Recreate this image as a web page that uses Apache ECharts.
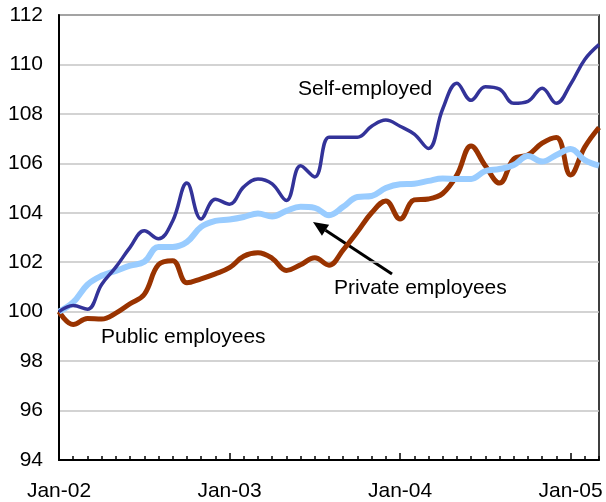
<!DOCTYPE html>
<html>
<head>
<meta charset="utf-8">
<script src="https://cdn.jsdelivr.net/npm/echarts@6/dist/echarts.min.js"></script>
<style>
html,body{margin:0;padding:0;background:#fff;}
#chart{width:606px;height:502px;}
</style>
</head>
<body>
<div id="chart"></div>
<script>
const months = ['Jan-02','Feb-02','Mar-02','Apr-02','May-02','Jun-02','Jul-02','Aug-02','Sep-02','Oct-02','Nov-02','Dec-02',
  'Jan-03','Feb-03','Mar-03','Apr-03','May-03','Jun-03','Jul-03','Aug-03','Sep-03','Oct-03','Nov-03','Dec-03',
  'Jan-04','Feb-04','Mar-04','Apr-04','May-04','Jun-04','Jul-04','Aug-04','Sep-04','Oct-04','Nov-04','Dec-04',
  'Jan-05','Feb-05','Mar-05'];
const selfEmployed = [100.0,100.25,100.1,101.1,101.8,102.6,103.27,102.95,103.67,105.2,103.75,104.55,
  104.35,105.05,105.37,105.17,104.5,105.9,105.45,107.06,107.06,107.06,107.5,107.75,
  107.5,107.18,106.6,108.2,109.24,108.55,109.1,109.0,108.43,108.51,109.04,108.43,
  109.2,110.2,110.8];
const privateEmployees = [100.0,100.38,101.09,101.45,101.65,101.86,102.02,102.62,102.62,102.82,103.43,103.67,
  103.73,103.83,103.97,103.85,104.08,104.24,104.2,103.9,104.24,104.64,104.68,105.0,
  105.15,105.17,105.29,105.39,105.37,105.37,105.69,105.77,105.93,106.3,106.07,106.34,
  106.58,106.13,105.91];
const publicEmployees = [100.0,99.48,99.72,99.7,99.94,100.32,100.7,101.9,102.06,101.17,101.33,101.53,
  101.78,102.24,102.38,102.16,101.67,101.9,102.18,101.88,102.5,103.23,104.0,104.48,
  103.75,104.52,104.56,104.78,105.53,106.7,105.9,105.2,106.17,106.34,106.82,107.05,
  105.53,106.66,107.45];
const yMin = 94, yMax = 112, yStep = 2;

const chart = echarts.init(document.getElementById('chart'));
const FONT = 'Liberation Sans, Arial, sans-serif';

// arrow annotation geometry
const tail = [392, 274], tip = [313, 222];
const dx = tip[0]-tail[0], dy = tip[1]-tail[1], L = Math.hypot(dx, dy);
const ux = dx/L, uy = dy/L, hl = 15, hw = 6.5;
const bx = tip[0]-ux*hl, by = tip[1]-uy*hl;
const nx = -uy, ny = ux;

chart.setOption({
  animation: false,
  grid: {left: 59, top: 15, right: 7, bottom: 41, show: true, borderColor: '#000', borderWidth: 1.5, backgroundColor: 'transparent'},
  xAxis: [{
    type: 'category', data: months, boundaryGap: false,
    axisLine: {lineStyle: {color: '#000', width: 2}},
    axisTick: {show: true, inside: true, length: 4, interval: 0, lineStyle: {color: '#000', width: 1.5}},
    axisLabel: {interval: (i) => i % 12 === 0, color: '#000', fontSize: 21, fontFamily: FONT, margin: 21},
    splitLine: {show: false}
  }, {
    type: 'category', data: months, boundaryGap: false, position: 'bottom',
    axisLine: {show: false},
    axisTick: {show: true, inside: true, length: 7, interval: (i) => i % 12 === 0, lineStyle: {color: '#000', width: 1.5}},
    axisLabel: {show: false}, splitLine: {show: false}
  }],
  yAxis: {
    type: 'value', min: yMin, max: yMax, interval: yStep,
    axisLine: {show: true, lineStyle: {color: '#000', width: 2}},
    axisTick: {show: false},
    axisLabel: {color: '#000', fontSize: 21, fontFamily: FONT, margin: 16},
    splitLine: {show: true, lineStyle: {color: '#c4c4c4', width: 1.5}}
  },
  series: [
    {name: 'Public employees', type: 'line', data: publicEmployees, smooth: 0.4, symbol: 'none',
     lineStyle: {color: '#993300', width: 5}},
    {name: 'Private employees', type: 'line', data: privateEmployees, smooth: 0.4, symbol: 'none',
     lineStyle: {color: '#99ccff', width: 6}},
    {name: 'Self-employed', type: 'line', data: selfEmployed, smooth: 0.4, symbol: 'none',
     lineStyle: {color: '#333399', width: 3.5}}
  ],
  graphic: [
    {type: 'text', left: 298, top: 79, style: {text: 'Self-employed', fill: '#000', font: '21px ' + FONT}},
    {type: 'text', left: 334, top: 278, style: {text: 'Private employees', fill: '#000', font: '21px ' + FONT}},
    {type: 'text', left: 101, top: 327, style: {text: 'Public employees', fill: '#000', font: '21px ' + FONT}},
    {type: 'line', shape: {x1: tail[0], y1: tail[1], x2: bx, y2: by}, style: {stroke: '#000', lineWidth: 3}},
    {type: 'polygon', shape: {points: [tip, [bx+nx*hw, by+ny*hw], [bx-nx*hw, by-ny*hw]]}, style: {fill: '#000'}}
  ]
});
</script>
</body>
</html>
